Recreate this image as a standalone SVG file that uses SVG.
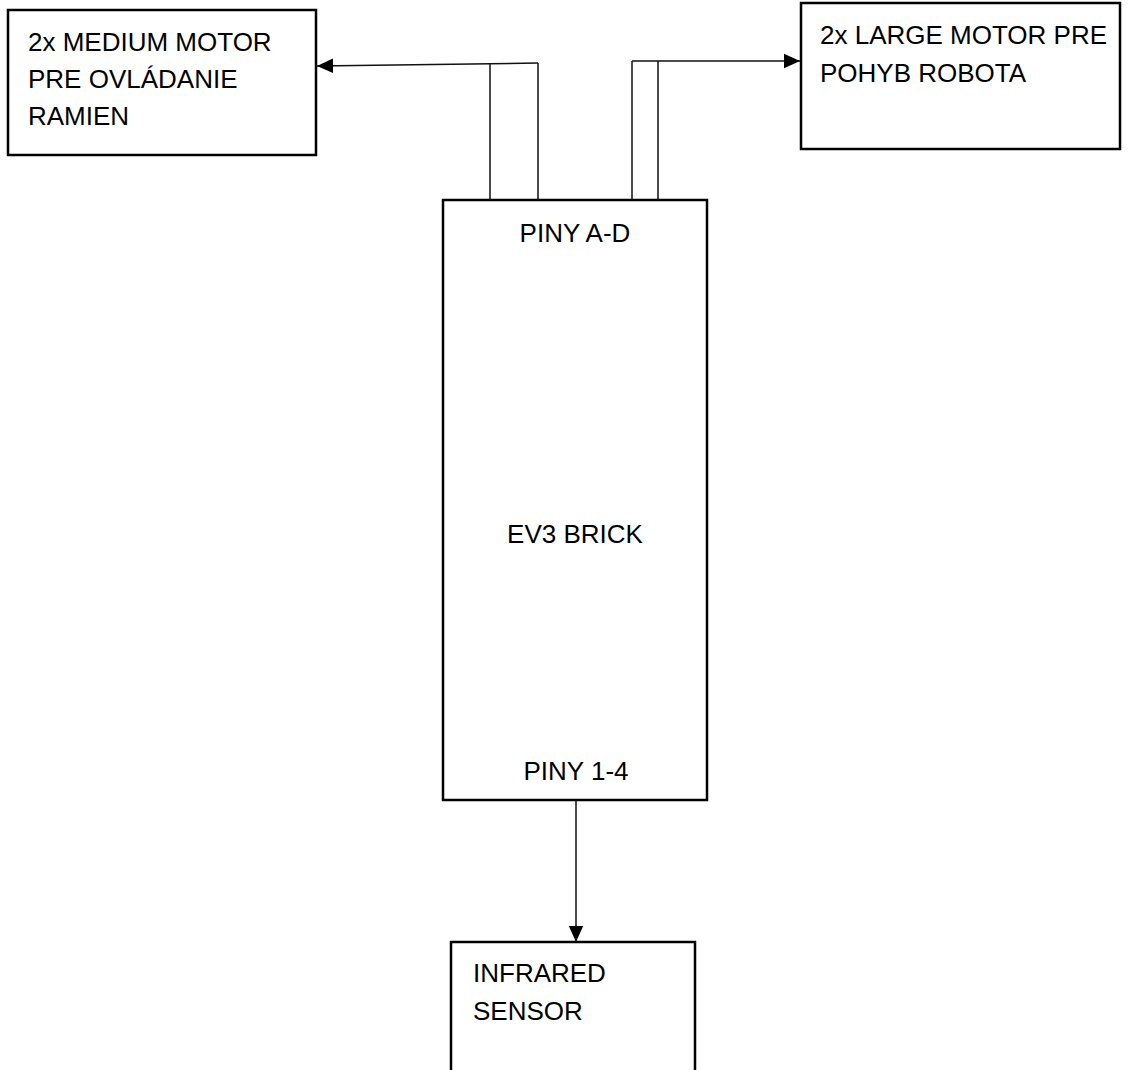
<svg xmlns="http://www.w3.org/2000/svg" width="1129" height="1070" viewBox="0 0 1129 1070">
<style>
.box{fill:#fff;stroke:#000;stroke-width:2.5}
.t{font-family:"Liberation Sans",Arial,sans-serif;font-size:26px;fill:#000}
.c{stroke:#111;stroke-width:1.5;fill:none}
</style>
<defs>
<marker id="ah" viewBox="0 0 10 10" refX="10" refY="5" markerWidth="16" markerHeight="16" markerUnits="userSpaceOnUse" orient="auto">
<path d="M0,0.5 L10,5 L0,9.5 Z" fill="#000"/>
</marker>
</defs>
<rect width="1129" height="1070" fill="#fff"/>
<g id="medium-motor">
<rect class="box" x="8" y="10" width="308" height="145"/>
<text class="t" x="28" y="51">2x MEDIUM MOTOR</text>
<text class="t" x="28" y="88">PRE OVLÁDANIE</text>
<text class="t" x="28" y="125">RAMIEN</text>
</g>
<g id="large-motor">
<rect class="box" x="801" y="3" width="319" height="146"/>
<text class="t" x="820" y="44">2x LARGE MOTOR PRE</text>
<text class="t" x="820" y="82">POHYB ROBOTA</text>
</g>
<g id="ev3-brick">
<rect class="box" x="443" y="200" width="264" height="600"/>
<text class="t" x="575" y="242" text-anchor="middle">PINY A-D</text>
<text class="t" x="575" y="543" text-anchor="middle">EV3 BRICK</text>
<text class="t" x="576" y="780" text-anchor="middle">PINY 1-4</text>
</g>
<g id="infrared-sensor">
<rect class="box" x="451" y="942" width="244" height="140"/>
<text class="t" x="473" y="982">INFRARED</text>
<text class="t" x="473" y="1020">SENSOR</text>
</g>
<g id="connectors">
<path class="c" d="M490,200 V64"/>
<path class="c" d="M538,200 V63"/>
<path class="c" d="M538,63 L317,66" marker-end="url(#ah)"/>
<path class="c" d="M632,200 V61"/>
<path class="c" d="M658,200 V61"/>
<path class="c" d="M632,61 H800" marker-end="url(#ah)"/>
<path class="c" d="M576,800 V942" marker-end="url(#ah)"/>
</g>
</svg>
